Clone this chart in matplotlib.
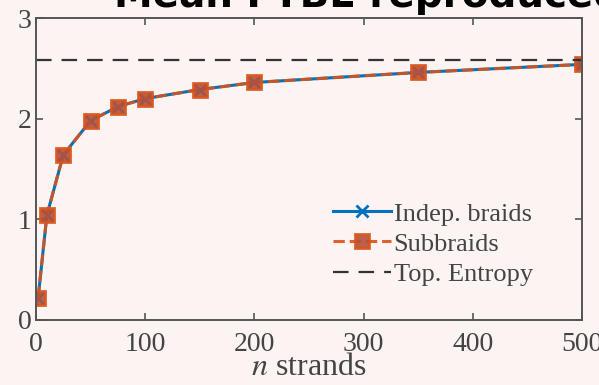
import numpy as np
import matplotlib
matplotlib.use("Agg")
from matplotlib import pyplot as plt

# data
n_strands = [2, 10, 25, 50, 75, 100, 150, 200, 350, 500]
indep_braids = [0.22, 1.04, 1.64, 1.98, 2.12, 2.20, 2.29, 2.36, 2.46, 2.54]
subbraids = [0.22, 1.04, 1.64, 1.98, 2.12, 2.20, 2.29, 2.36, 2.46, 2.54]
top_entropy = 2.58
x_ticks = [0, 100, 200, 300, 400, 500]
y_ticks = [0, 1, 2, 3]

plt.rcParams["font.family"] = ["Liberation Serif", "DejaVu Serif"]
plt.rcParams["mathtext.fontset"] = "stix"

bg = "#fcf3f3"
fig = plt.figure(figsize=(5.99, 3.85), dpi=100, facecolor=bg)
ax = fig.add_axes([0.060, 0.169, 0.912, 0.784], facecolor=bg)

ax.plot(n_strands, indep_braids, color="#0072BD", marker="x", markersize=9,
        markeredgewidth=2, linewidth=2.2, label="Indep. braids")
ax.plot(n_strands, subbraids, color="#D95319", linestyle="--", marker="s",
        markersize=10, markeredgewidth=2, markerfacecolor="#b5503a",
        linewidth=2.2, label="Subbraids", alpha=0.9)
ax.plot([0, 500], [top_entropy, top_entropy], color="#333333", linestyle=(0, (7, 4.5)),
        linewidth=1.6, label="Top. Entropy")

ax.set_xlim(0, 500)
ax.set_ylim(0, 3)
ax.set_xticks(x_ticks)
ax.set_yticks(y_ticks)
ax.tick_params(direction="in", top=True, right=True, labelsize=20, colors="#555555",
               length=5, width=1.2, pad=3)
ax.tick_params(axis="x", pad=9)
for t in ax.get_xticklabels() + ax.get_yticklabels():
    t.set_color("#444444")
for s in ax.spines.values():
    s.set_color("#555555")
    s.set_linewidth(1.4)
ax.set_xlabel("$n$ strands", fontsize=23, color="#444444", labelpad=-3)

leg = ax.legend(loc="upper left", bbox_to_anchor=(0.556, 0.475),
                bbox_transform=fig.transFigure, frameon=False, fontsize=19,
                handlelength=2.2, handletextpad=0.1, labelspacing=0.25,
                borderpad=0, borderaxespad=0)
for t in leg.get_texts():
    t.set_color("#444444")

fig.text(0.19, 0.982, "Mean FTBE reproduced", fontsize=28, fontweight="bold",
         family="DejaVu Sans", va="baseline", ha="left", color="black")

fig.savefig("out.png", dpi=100, facecolor=bg)
